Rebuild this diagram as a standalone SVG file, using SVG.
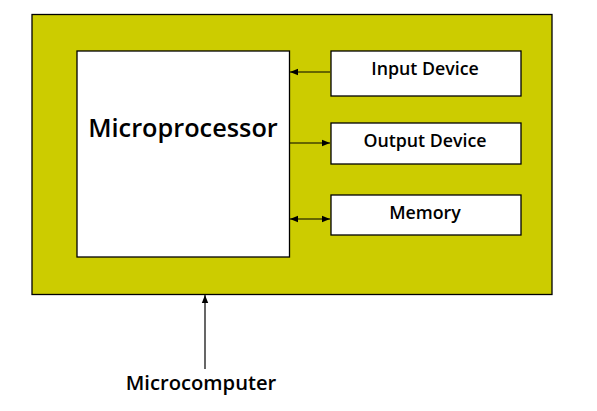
<svg xmlns="http://www.w3.org/2000/svg" width="597" height="411" viewBox="0 0 597 411">
<defs>
<style>
.box{fill:#fff;stroke:#000;stroke-width:1.3}
.lbl{font-family:"Open Sans",Lato,sans-serif;font-weight:600;fill:#000;text-anchor:middle}
.ln{stroke:#000;stroke-width:1.2;fill:none}
</style>
<marker id="ah" viewBox="0 0 10 10" refX="10" refY="5" markerWidth="8" markerHeight="8" markerUnits="userSpaceOnUse" orient="auto-start-reverse">
<path d="M0,1 L10,5 L0,9 z" fill="#000"/>
</marker>
</defs>
<rect width="597" height="411" fill="#fff"/>
<g id="microcomputer">
<rect x="32" y="14.5" width="520" height="280" fill="#CCCC00" stroke="#000" stroke-width="1.3"/>
</g>
<g id="microprocessor">
<rect class="box" x="77" y="51" width="212.5" height="206"/>
<text class="lbl" x="183" y="137" font-size="25.3">Microprocessor</text>
</g>
<g id="input">
<rect class="box" x="331" y="51" width="190" height="45"/>
<text class="lbl" x="425" y="75" font-size="17.8">Input Device</text>
</g>
<g id="output">
<rect class="box" x="331" y="123" width="190" height="41"/>
<text class="lbl" x="425" y="147" font-size="17.8">Output Device</text>
</g>
<g id="memory">
<rect class="box" x="331" y="195" width="190" height="40"/>
<text class="lbl" x="425" y="219" font-size="17.8">Memory</text>
</g>
<g id="label">
<text class="lbl" x="201" y="390" font-size="20.2">Microcomputer</text>
</g>
<g id="connectors">
<line class="ln" x1="330" y1="72" x2="290" y2="72" marker-end="url(#ah)"/>
<line class="ln" x1="290" y1="143" x2="330" y2="143" marker-end="url(#ah)"/>
<line class="ln" x1="290" y1="219" x2="330" y2="219" marker-start="url(#ah)" marker-end="url(#ah)"/>
<line class="ln" x1="205" y1="369" x2="205" y2="295" marker-end="url(#ah)"/>
</g>
</svg>
